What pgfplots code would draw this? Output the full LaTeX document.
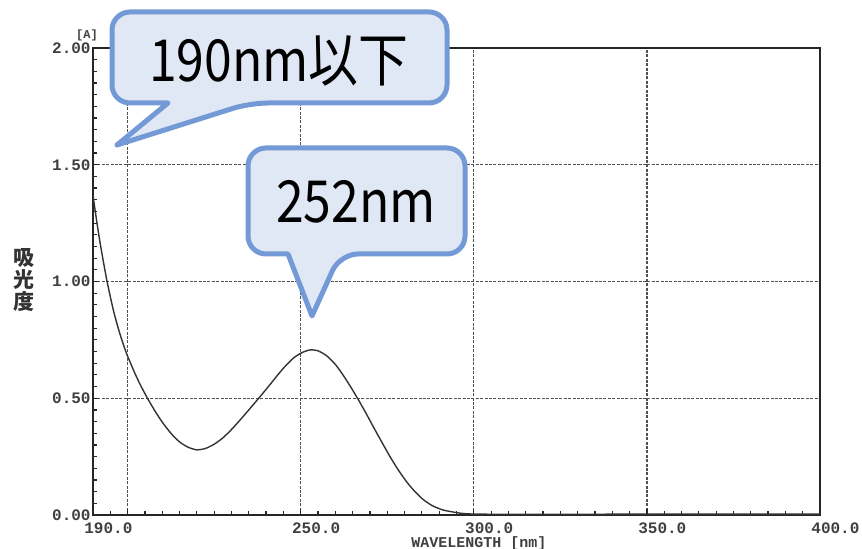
\documentclass[border=0pt]{standalone}
\usepackage{fontspec}
\setmainfont{Liberation Sans}
\setmonofont{Liberation Mono}
\newfontfamily\cjk{Noto Sans CJK JP}
\usepackage{graphicx}
\usepackage{pgfplots}
\usepackage{pgfplotstable}
\pgfplotsset{compat=1.18}
\definecolor{bubbleline}{HTML}{7399D6}
\definecolor{bubblefill}{HTML}{E1E8F5}
\definecolor{gridc}{HTML}{505050}

\pgfplotstableread{
lambda A
190.0 1.37
191.0 1.265
192.0 1.17
193.0 1.085
194.0 1.005
195.0 0.935
196.0 0.87
197.0 0.815
198.0 0.765
199.0 0.72
200.0 0.68
201.0 0.645
202.0 0.61
203.0 0.578
204.0 0.548
205.0 0.52
206.0 0.493
208.0 0.443
210.0 0.398
212.5 0.35
215.0 0.313
217.5 0.29
220.0 0.279
222.5 0.285
225.0 0.303
227.5 0.33
230.0 0.366
232.5 0.407
235.0 0.45
237.7 0.497
240.5 0.547
243.1 0.595
245.5 0.637
247.9 0.672
250.3 0.695
252.7 0.707
255.0 0.703
257.5 0.682
260.0 0.645
262.3 0.598
264.5 0.547
266.6 0.495
269.0 0.432
271.0 0.377
273.5 0.31
275.8 0.25
278.0 0.197
280.6 0.142
283.0 0.10
285.4 0.066
288.0 0.04
291.2 0.021
296.0 0.008
300.0 0.004
310.0 0.003
330.0 0.003
350.0 0.004
370.0 0.004
400.0 0.004
}\spectrum

\begin{document}
\begin{tikzpicture}
\path[use as bounding box] (0,0) rectangle (431pt,274.5pt);
\begin{axis}[
  at={(46.5pt,17pt)}, anchor=south west,
  scale only axis, width=363.5pt, height=233.5pt,
  xmin=190, xmax=400, ymin=0, ymax=2,
  xtick={200,250,300,350,400},
  xticklabels={,250.0,300.0,350.0,400.0},
  extra x ticks={190}, extra x tick labels={190.0},
  extra x tick style={grid=none, major tick length=0pt},
  ytick={0,0.5,1,1.5,2}, yticklabels={0.00,0.50,1.00,1.50,2.00},
  minor xtick={190,195,...,400},
  minor ytick={0,0.05,...,2.0},
  xmajorgrids, ymajorgrids,
  major grid style={gridc, line width=0.6pt, dash pattern=on 1.5pt off 0.7pt},
  tick align=inside, xtick pos=left, ytick pos=left,
  major tick length=3pt, minor tick length=2pt,
  tick style={black!85, line width=0.6pt},
  axis line style={black!85, line width=0.9pt},
  ticklabel style={font=\ttfamily\bfseries\fontsize{8}{8}\selectfont, text=black!75},
  xticklabel style={anchor=north west, xshift=-5.5pt, yshift=-2.5pt, inner sep=1pt},
  yticklabel style={anchor=east, inner sep=1pt},
  /pgf/number format/assume math mode=true,
]
\addplot[black!80, line width=0.7pt, smooth, tension=0.4] table[x=lambda, y=A] {\spectrum};
\end{axis}
\begin{scope}[x=0.5pt,y=-0.5pt,yshift=274.5pt]
  % axis texts
  \node[font=\ttfamily\bfseries\fontsize{6}{6}\selectfont, text=black!75, inner sep=0.5pt] at (87,35) {[A]};
  \node[font=\ttfamily\bfseries\fontsize{7.5}{7.5}\selectfont, text=black!75, inner sep=0.5pt] at (479,543.5) {WAVELENGTH [nm]};
  \node[font=\cjk\bfseries\fontsize{10.5}{11}\selectfont, text=black!80, align=center] at (24,280) {吸\\光\\度};
  % bubble 1
  \draw[bubbleline, fill=bubblefill, line width=2.5pt, line join=round, rounded corners=9pt]
    (280,12) -- (447,12) -- (447,103) -- (250,103) [sharp corners] -- (117,145) -- (168,103) [rounded corners=9pt] -- (112,103) -- (112,12) -- cycle;
  \node[anchor=base, font=\cjk\fontsize{29}{30}\selectfont] at (279,82) {\scalebox{0.86}[1]{190nm以下}};
  % bubble 2
  \draw[bubbleline, fill=bubblefill, line width=2.5pt, line join=round, rounded corners=9pt]
    (356,148) -- (465,148) -- (465,254) -- (340,254) [sharp corners] -- (312,316) -- (288,254) [rounded corners=9pt] -- (248,254) -- (248,148) -- cycle;
  \node[anchor=base, font=\cjk\fontsize{29}{30}\selectfont] at (356,223) {\scalebox{0.86}[1]{252nm}};
\end{scope}
\end{tikzpicture}
\end{document}
